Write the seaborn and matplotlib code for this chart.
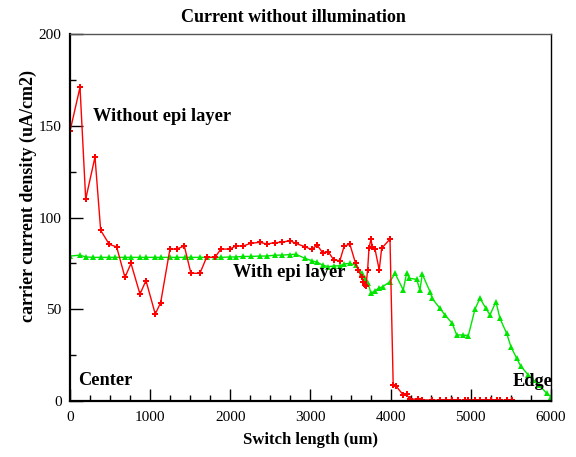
import matplotlib
matplotlib.use("Agg")
import matplotlib.pyplot as plt
import seaborn as sns
import pandas as pd
from matplotlib.ticker import MultipleLocator

# ---- data ----
red_x = [0, 125, 196, 312, 383, 490, 582, 686, 761, 873, 948, 1064, 1131, 1247, 1330,
         1426, 1509, 1621, 1704, 1808, 1883, 1995, 2066, 2161, 2253, 2369, 2453, 2556,
         2640, 2744, 2818, 2930, 3014, 3084, 3151, 3221, 3292, 3367, 3421, 3492, 3563,
         3596, 3638, 3658, 3680, 3692, 3713, 3730, 3755, 3771, 3805, 3858, 3888, 3992,
         4032, 4065, 4157, 4199, 4240, 4344, 4386, 4510, 4614, 4697, 4767, 4843, 4925,
         4967, 5050, 5112, 5187, 5246, 5321, 5362, 5454, 5508]
red_y = [147, 171, 110, 133, 93, 85.4, 84, 67.4, 75, 58.3, 65.6, 47.4, 53.6, 82.8, 82.8,
         84.5, 69.6, 69.6, 78.3, 78.3, 82.8, 82.8, 84.5, 84.5, 85.9, 86.5, 85.6, 86.3,
         86.5, 87.4, 85.9, 84.1, 82.6, 85, 80.8, 81.4, 76.8, 76.5, 84.5, 85.4, 75,
         71.4, 67.7, 65, 63.5, 62.5, 71.4, 83.2, 88.3, 83.8, 82.8, 71.4, 83.2, 88.3,
         8.7, 8.3, 3.3, 3.6, 1.0, 1.0, 0.6, 0.5, 0.4, 0.4, 0.4, 0.4, 0.4,
         0.4, 0.4, 0.4, 0.4, 0.4, 0.4, 0.4, 0.4, 0.4]

green_x = [0, 125, 196, 291, 383, 490, 562, 686, 761, 873, 948, 1064, 1131, 1247, 1330,
           1434, 1509, 1621, 1704, 1808, 1883, 1995, 2066, 2161, 2253, 2369, 2453, 2556,
           2640, 2744, 2818, 2930, 3014, 3084, 3151, 3221, 3292, 3367, 3421, 3492, 3563,
           3637, 3679, 3720, 3754, 3804, 3853, 3899, 3992, 4054, 4158, 4200, 4232, 4325,
           4366, 4395, 4491, 4519, 4615, 4678, 4769, 4824, 4906, 4969, 5052, 5114, 5189,
           5239, 5314, 5364, 5447, 5501, 5572, 5622, 5717, 5779, 5854, 5946, 6000]
green_y = [79, 79.5, 78.5, 78.3, 78.3, 78.3, 78.3, 78.3, 78.3, 78.3, 78.3, 78.3, 78.3, 78.3, 78.3,
           78.3, 78.3, 78.3, 78.3, 78.3, 78.3, 78.5, 78.5, 78.8, 78.8, 79, 79, 79.5,
           79.5, 79.8, 80, 77.8, 76.5, 75.6, 74.1, 73.2, 73.6, 73.7, 74.7, 75, 74.1,
           69.6, 66.9, 64.1, 58.7, 60.1, 61.4, 62.3, 65, 69.6, 60.5, 69.9, 66.9, 66.3,
           60.5, 69.2, 59.6, 55.9, 50.5, 46.9, 42.3, 36, 36, 35.6, 50, 56, 50.5,
           46.9, 54.1, 45, 36.9, 29.6, 23.3, 19.1, 14.2, 11.4, 8.7, 4.2, 2.3]

x_ticks = [0, 1000, 2000, 3000, 4000, 5000, 6000]
y_ticks = [0, 50, 100, 150, 200]

title = "Current without illumination"
xlabel = "Switch length (um)"
ylabel = "carrier current density (uA/cm2)"

# ---- style ----
sns.set_style("ticks")
plt.rcParams["font.family"] = ["Liberation Serif", "DejaVu Serif"]
plt.rcParams["text.color"] = "black"
plt.rcParams["axes.labelcolor"] = "black"
plt.rcParams["xtick.color"] = "black"
plt.rcParams["ytick.color"] = "black"

fig = plt.figure(figsize=(5.76, 4.57), dpi=100)
ax = fig.add_axes([0.1215, 0.1225, 0.835, 0.803])

red_df = pd.DataFrame({"x": red_x, "y": red_y})
green_df = pd.DataFrame({"x": green_x, "y": green_y})

sns.lineplot(data=green_df, x="x", y="y", ax=ax, color="#00e600", linewidth=1.0,
             marker="^", markersize=5, markeredgewidth=0, markerfacecolor="#00e600",
             estimator=None, sort=False)
sns.lineplot(data=red_df, x="x", y="y", ax=ax, color="#ff0000", linewidth=1.0,
             marker="P", markersize=4.5, markeredgewidth=0, markerfacecolor="#ff0000",
             estimator=None, sort=False)

ax.set_xlim(0, 6000)
ax.set_ylim(0, 200)
ax.set_xticks(x_ticks)
ax.set_yticks(y_ticks)
ax.xaxis.set_minor_locator(MultipleLocator(250))
ax.yaxis.set_minor_locator(MultipleLocator(25))
ax.tick_params(which="major", direction="in", length=9, width=1, labelsize=11,
               top=False, right=False, colors="black", labelcolor="black")
ax.tick_params(which="minor", direction="in", length=4.5, width=1, top=False, right=False)
ax.tick_params(axis="x", pad=7)
ax.tick_params(axis="y", pad=6)

for s in ["left", "bottom"]:
    ax.spines[s].set_linewidth(1.6)
    ax.spines[s].set_color("black")
ax.spines["top"].set_visible(True)
ax.spines["right"].set_visible(True)
ax.spines["top"].set_linewidth(1.0)
ax.spines["top"].set_color("#555555")
ax.spines["right"].set_linewidth(1.0)
ax.spines["right"].set_color("black")

ax.set_title(title, fontsize=13, fontweight="bold", pad=9, x=0.464, color="black")
ax.set_xlabel(xlabel, fontsize=12, fontweight="bold", labelpad=6, color="black")
ax.set_ylabel(ylabel, fontsize=13, fontweight="bold", color="black")
ax.yaxis.set_label_coords(-0.068, 0.559)

ann = dict(fontsize=13.2, fontweight="bold", va="center", ha="left", color="black")
ax.text(287, 154.8, "Without epi layer", **ann)
ax.text(2033, 70.3, "With epi layer", **ann)
ax.text(100, 11.4, "Center", **ann)
ax.text(5526, 10.4, "Edge", clip_on=False, **ann)

fig.savefig("out.png", dpi=100)
